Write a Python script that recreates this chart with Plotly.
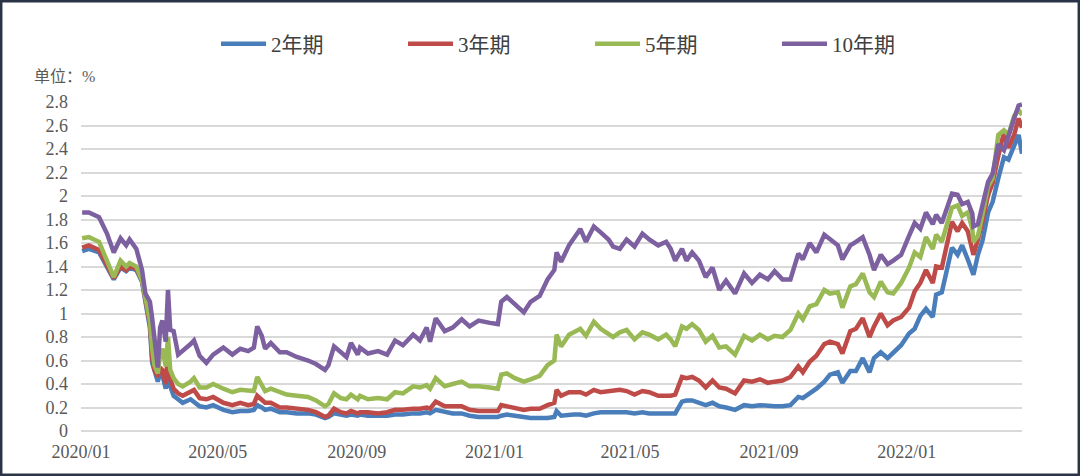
import plotly.graph_objects as go

dates = [
    "2020-01-02", "2020-01-08", "2020-01-17", "2020-01-24", "2020-01-30", "2020-02-05", "2020-02-10", "2020-02-13",
    "2020-02-19", "2020-02-24", "2020-02-27", "2020-03-02", "2020-03-04", "2020-03-06", "2020-03-09", "2020-03-11",
    "2020-03-13", "2020-03-16", "2020-03-18", "2020-03-20", "2020-03-23", "2020-03-27", "2020-03-31", "2020-04-07",
    "2020-04-10", "2020-04-15", "2020-04-21", "2020-04-27", "2020-05-06", "2020-05-14", "2020-05-21", "2020-05-28",
    "2020-06-02", "2020-06-05", "2020-06-09", "2020-06-12", "2020-06-17", "2020-06-25", "2020-07-01", "2020-07-10",
    "2020-07-20", "2020-07-27", "2020-08-04", "2020-08-07",
    "2020-08-12", "2020-08-18", "2020-08-23", "2020-08-27", "2020-09-02", "2020-09-04", "2020-09-11", "2020-09-20",
    "2020-09-28", "2020-10-05", "2020-10-12", "2020-10-21", "2020-10-27", "2020-11-02", "2020-11-05", "2020-11-10",
    "2020-11-18", "2020-11-25", "2020-12-03", "2020-12-10", "2020-12-18", "2020-12-28", "2021-01-04", "2021-01-07",
    "2021-01-12", "2021-01-19", "2021-01-27", "2021-02-02", "2021-02-10", "2021-02-17", "2021-02-23", "2021-02-25",
    "2021-03-01", "2021-03-08", "2021-03-12", "2021-03-18",
    "2021-03-23", "2021-03-30", "2021-04-05", "2021-04-12", "2021-04-16", "2021-04-22", "2021-04-28", "2021-05-05",
    "2021-05-12", "2021-05-18", "2021-05-26", "2021-06-02", "2021-06-06", "2021-06-10", "2021-06-16", "2021-06-20",
    "2021-06-25", "2021-07-01", "2021-07-07", "2021-07-13", "2021-07-19", "2021-07-25", "2021-08-02", "2021-08-10",
    "2021-08-17", "2021-08-24", "2021-08-31", "2021-09-06", "2021-09-13", "2021-09-20", "2021-09-27", "2021-10-01",
    "2021-10-07", "2021-10-13", "2021-10-20",
    "2021-10-25", "2021-11-01", "2021-11-05", "2021-11-12", "2021-11-17", "2021-11-23", "2021-11-29", "2021-12-03",
    "2021-12-09", "2021-12-15", "2021-12-20", "2021-12-27", "2022-01-03", "2022-01-08", "2022-01-13", "2022-01-18",
    "2022-01-24", "2022-01-27", "2022-02-01", "2022-02-07", "2022-02-10", "2022-02-15", "2022-02-19", "2022-02-24",
    "2022-02-28", "2022-03-01", "2022-03-05", "2022-03-09", "2022-03-14", "2022-03-18", "2022-03-23", "2022-03-28",
    "2022-04-01", "2022-04-06", "2022-04-10", "2022-04-13",
]

y10 = [
    1.86, 1.86, 1.82, 1.68, 1.52, 1.64, 1.58, 1.63, 1.55, 1.37, 1.17, 1.10, 0.96, 0.76, 0.54, 0.88,
    0.94, 0.76, 1.20, 0.86, 0.85, 0.65, 0.68, 0.74, 0.77, 0.64, 0.58, 0.65, 0.71, 0.65, 0.70, 0.68,
    0.71, 0.89, 0.81, 0.70, 0.75, 0.67, 0.67, 0.63, 0.60, 0.57, 0.52, 0.56,
    0.72, 0.67, 0.63, 0.75, 0.65, 0.71, 0.66, 0.68, 0.65, 0.77, 0.73, 0.82, 0.77, 0.88, 0.76, 0.96,
    0.85, 0.88, 0.95, 0.89, 0.94, 0.92, 0.91, 1.10, 1.14, 1.08, 1.01, 1.10, 1.15, 1.29, 1.37, 1.52,
    1.44, 1.58, 1.63, 1.72,
    1.61, 1.74, 1.69, 1.63, 1.57, 1.55, 1.63, 1.57, 1.68, 1.63, 1.58, 1.61, 1.55, 1.45, 1.55, 1.45,
    1.52, 1.45, 1.31, 1.39, 1.20, 1.28, 1.17, 1.34, 1.26, 1.33, 1.29, 1.36, 1.29, 1.29, 1.51, 1.46,
    1.60, 1.52, 1.67,
    1.63, 1.58, 1.46, 1.58, 1.61, 1.65, 1.50, 1.37, 1.50, 1.42, 1.45, 1.50, 1.66, 1.77, 1.72, 1.86,
    1.76, 1.84, 1.77, 1.92, 2.02, 2.01, 1.93, 1.95, 1.85, 1.74, 1.76, 1.92, 2.12, 2.19, 2.44, 2.39,
    2.52, 2.66, 2.77, 2.78,
]

y5 = [
    1.64, 1.65, 1.61, 1.46, 1.31, 1.45, 1.40, 1.43, 1.40, 1.28, 1.14, 0.94, 0.70, 0.56, 0.49, 0.66,
    0.70, 0.55, 0.80, 0.52, 0.45, 0.40, 0.38, 0.42, 0.45, 0.37, 0.37, 0.40, 0.36, 0.33, 0.35, 0.34,
    0.34, 0.46, 0.40, 0.34, 0.36, 0.33, 0.31, 0.30, 0.29, 0.26, 0.21, 0.23,
    0.32, 0.28, 0.27, 0.31, 0.27, 0.30, 0.27, 0.28, 0.27, 0.33, 0.32, 0.38, 0.37, 0.39, 0.36, 0.45,
    0.38, 0.40, 0.42, 0.38, 0.38, 0.37, 0.36, 0.48, 0.49, 0.45, 0.42, 0.44, 0.47, 0.56, 0.60, 0.82,
    0.72, 0.82, 0.84, 0.87,
    0.81, 0.93, 0.87, 0.82, 0.80, 0.84, 0.86, 0.78, 0.84, 0.82, 0.78, 0.82, 0.78, 0.72, 0.89, 0.87,
    0.91, 0.86, 0.76, 0.81, 0.71, 0.72, 0.65, 0.81, 0.77, 0.82, 0.78, 0.81, 0.80, 0.86, 1.00, 0.95,
    1.06, 1.08, 1.20,
    1.17, 1.18, 1.05, 1.23, 1.25, 1.34, 1.18, 1.14, 1.27, 1.18, 1.17, 1.26, 1.39, 1.52, 1.48, 1.65,
    1.55, 1.67, 1.61, 1.81, 1.90, 1.92, 1.83, 1.86, 1.72, 1.61, 1.66, 1.84, 2.08, 2.15, 2.52, 2.56,
    2.52, 2.68, 2.73, 2.69,
]

y3 = [
    1.56, 1.58, 1.54, 1.42, 1.30, 1.40, 1.37, 1.40, 1.38, 1.28, 1.11, 0.91, 0.62, 0.52, 0.46, 0.54,
    0.52, 0.40, 0.66, 0.44, 0.36, 0.32, 0.30, 0.34, 0.35, 0.28, 0.27, 0.29, 0.24, 0.22, 0.24, 0.22,
    0.23, 0.30, 0.27, 0.24, 0.24, 0.20, 0.20, 0.19, 0.18, 0.16, 0.12, 0.13,
    0.19, 0.16, 0.15, 0.17, 0.15, 0.16, 0.16, 0.15, 0.16, 0.18, 0.18, 0.19, 0.19, 0.20, 0.19, 0.25,
    0.21, 0.21, 0.21, 0.18, 0.17, 0.17, 0.17, 0.22, 0.21, 0.19, 0.18, 0.19, 0.19, 0.22, 0.24, 0.35,
    0.30, 0.33, 0.33, 0.33,
    0.31, 0.35, 0.33, 0.34, 0.34, 0.35, 0.34, 0.31, 0.34, 0.33, 0.30, 0.30, 0.30, 0.31, 0.46, 0.45,
    0.46, 0.43, 0.37, 0.43, 0.37, 0.36, 0.32, 0.43, 0.42, 0.44, 0.41, 0.42, 0.43, 0.46, 0.55, 0.50,
    0.59, 0.64, 0.74,
    0.76, 0.74, 0.66, 0.85, 0.87, 0.96, 0.80, 0.89, 1.00, 0.90, 0.94, 0.97, 1.05, 1.19, 1.26, 1.37,
    1.26, 1.40, 1.39, 1.66, 1.78, 1.70, 1.77, 1.70, 1.54, 1.50, 1.63, 1.78, 2.01, 2.11, 2.34, 2.54,
    2.41, 2.52, 2.66, 2.58,
]

y2 = [
    1.53, 1.55, 1.52, 1.40, 1.29, 1.39, 1.36, 1.39, 1.37, 1.27, 1.10, 0.88, 0.58, 0.50, 0.42, 0.50,
    0.48, 0.36, 0.54, 0.38, 0.30, 0.27, 0.24, 0.27, 0.25, 0.21, 0.20, 0.22, 0.18, 0.16, 0.17, 0.17,
    0.18, 0.22, 0.20, 0.18, 0.19, 0.16, 0.16, 0.15, 0.15, 0.14, 0.11, 0.12,
    0.15, 0.14, 0.13, 0.14, 0.13, 0.14, 0.13, 0.13, 0.13, 0.14, 0.14, 0.15, 0.15, 0.16, 0.15, 0.18,
    0.16, 0.15, 0.15, 0.13, 0.12, 0.12, 0.12, 0.13, 0.14, 0.13, 0.12, 0.11, 0.11, 0.11, 0.12, 0.17,
    0.13, 0.14, 0.14, 0.14,
    0.13, 0.15, 0.16, 0.16, 0.16, 0.16, 0.16, 0.15, 0.16, 0.15, 0.15, 0.15, 0.15, 0.15, 0.25, 0.26,
    0.26, 0.24, 0.22, 0.24, 0.21, 0.20, 0.18, 0.22, 0.21, 0.22, 0.21, 0.21, 0.21, 0.22, 0.29, 0.28,
    0.32, 0.36, 0.42,
    0.48, 0.50, 0.41, 0.51, 0.51, 0.62, 0.50, 0.62, 0.67, 0.62, 0.67, 0.73, 0.83, 0.87, 0.98, 1.04,
    0.97, 1.16, 1.18, 1.41, 1.56, 1.50, 1.58, 1.46, 1.36, 1.33, 1.50, 1.62, 1.86, 1.95, 2.15, 2.33,
    2.31, 2.43, 2.52, 2.36,
]

series_names = ["2年期", "3年期", "5年期", "10年期"]
series_values = [y2, y3, y5, y10]
series_colors = ["#4A7EBB", "#BE4B48", "#98B954", "#7D60A0"]

x_tick_vals = ["2020-01-01", "2020-05-01", "2020-09-01", "2021-01-01", "2021-05-01", "2021-09-01", "2022-01-01"]
x_tick_text = ["2020/01", "2020/05", "2020/09", "2021/01", "2021/05", "2021/09", "2022/01"]
y_tick_vals = [0, 0.2, 0.4, 0.6, 0.8, 1, 1.2, 1.4, 1.6, 1.8, 2, 2.2, 2.4, 2.6, 2.8]
y_tick_text = ["0", "0.2", "0.4", "0.6", "0.8", "1", "1.2", "1.4", "1.6", "1.8", "2", "2.2", "2.4", "2.6", "2.8"]

FONT = "Liberation Serif, Noto Sans CJK SC, serif"
TXT = "#595959"

fig = go.Figure()
for name, vals, col in zip(series_names, series_values, series_colors):
    fig.add_trace(go.Scatter(x=dates, y=vals, name=name, mode="lines",
                             line=dict(color=col, width=4.5, shape="linear")))

W, H = 1080, 476
L, R, T, B = 81, 58, 102, 45
pw, ph = W - L - R, H - T - B

fig.update_layout(
    width=W, height=H,
    margin=dict(l=L, r=R, t=T, b=B),
    paper_bgcolor="white", plot_bgcolor="white",
    font=dict(family=FONT, color=TXT, size=18),
    showlegend=True,
    legend=dict(orientation="h", x=(216 - L) / pw, xanchor="left",
                y=1 + (T - 44) / ph, yanchor="middle",
                font=dict(family=FONT, size=21, color="#404040"),
                itemwidth=45, entrywidth=127, entrywidthmode="pixels",
                bgcolor="rgba(0,0,0,0)"),
    xaxis=dict(type="date", range=["2020-01-01", "2022-04-13"],
               tickmode="array", tickvals=x_tick_vals, ticktext=x_tick_text,
               showgrid=False, zeroline=False, showline=False,
               ticks="", ticklabelstandoff=8,
               tickfont=dict(family=FONT, size=18, color=TXT)),
    yaxis=dict(range=[0, 2.8], tickmode="array", tickvals=y_tick_vals, ticktext=y_tick_text,
               showgrid=True, gridcolor="#D9D9D9", gridwidth=1.5,
               zeroline=True, zerolinecolor="#D9D9D9", zerolinewidth=1.5,
               showline=False, ticks="", ticklabelstandoff=12,
               tickfont=dict(family=FONT, size=18, color=TXT)),
    annotations=[dict(text="单位：%", xref="paper", yref="paper",
                      x=(32 - L) / pw, y=1 + (T - 76) / ph, xanchor="left", yanchor="middle",
                      showarrow=False, font=dict(family=FONT, size=16, color=TXT))],
    shapes=[dict(type="rect", xref="paper", yref="paper",
                 x0=(1.2 - L) / pw, x1=(W - 1.2 - L) / pw,
                 y0=-(B - 1.2) / ph, y1=1 + (T - 1.2) / ph,
                 line=dict(color="#2B3447", width=2.5), fillcolor="rgba(0,0,0,0)", layer="above")],
)

fig.write_html("out.html", config={"displayModeBar": False},
               post_script="document.body.style.margin='0';document.body.style.padding='0';")
